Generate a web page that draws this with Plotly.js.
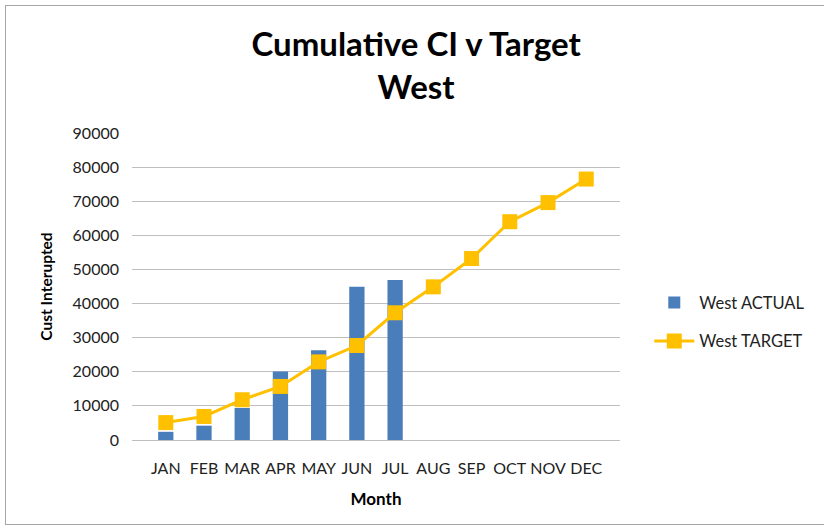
<!DOCTYPE html>
<html>
<head>
<meta charset="utf-8">
<script src="https://cdn.plot.ly/plotly-3.0.1.min.js"></script>
<style>
  body { margin: 0; background: #fff; }
  #frame { position: absolute; left: 5px; top: 5px; width: 830px; height: 518px; border: 1px solid #a6a6a6; }
  #plot { position: absolute; left: 0; top: 0; }
</style>
</head>
<body>
<div id="frame"></div>
<div id="plot"></div>
<script>
// monthly cumulative customers interrupted
const months = ['JAN', 'FEB', 'MAR', 'APR', 'MAY', 'JUN', 'JUL', 'AUG', 'SEP', 'OCT', 'NOV', 'DEC'];
const westActual = [2400, 4200, 9400, 20100, 26300, 44900, 46900, null, null, null, null, null];
const westTarget = [5100, 6900, 11800, 15700, 22900, 27700, 37300, 44900, 53200, 64000, 69600, 76500];

const baseFont = 'Lato, "Open Sans", sans-serif';

let actualTrace = {
    x: months,
    y: westActual,
    type: 'bar',
    name: 'West ACTUAL',
    legendgroup: 'actual',
    marker: { color: '#4a7ebb' },
    width: 0.4
};

let targetTrace = {
    x: months,
    y: westTarget,
    type: 'scatter',
    mode: 'lines+markers',
    name: 'West TARGET',
    legendgroup: 'target',
    line: { color: '#ffc000', width: 3 },
    marker: { color: '#ffc000', symbol: 'square', size: 15 }
};

let layout = {
    width: 824,
    height: 530,
    paper_bgcolor: 'rgba(0,0,0,0)',
    plot_bgcolor: 'rgba(0,0,0,0)',
    font: { family: baseFont, size: 16, color: '#222' },
    margin: { l: 132, r: 204, t: 133, b: 90 },
    title: {
        text: '<b>Cumulative CI v Target<br>West</b>',
        font: { size: 33, color: '#000' },
        x: 0.505,
        xanchor: 'center',
        y: 0.894,
        yanchor: 'middle',
        pad: { t: 0, b: 0 }
    },
    xaxis: {
        type: 'category',
        showline: true,
        linecolor: '#bfbfbf',
        linewidth: 1,
        ticks: '',
        ticklabelstandoff: 14,
        tickfont: { size: 16, color: '#222' },
        title: { text: '<b>Month</b>', font: { size: 17, color: '#000' }, standoff: 16 }
    },
    yaxis: {
        range: [0, 90000],
        dtick: 10000,
        showgrid: true,
        gridcolor: '#bfbfbf',
        gridwidth: 1,
        zeroline: false,
        showline: false,
        ticks: '',
        ticklabelstandoff: 12,
        tickformat: 'd',
        tickfont: { size: 16, color: '#222' },
        title: { text: '<b>Cust Interupted</b>', font: { size: 15.5, color: '#000' }, standoff: 16 }
    },
    showlegend: true,
    legend: {
        x: 1.06,
        y: 0.385,
        xanchor: 'left',
        yanchor: 'middle',
        font: { size: 16.5, color: '#222' },
        tracegroupgap: 14,
        itemwidth: 40,
        traceorder: 'grouped'
    },
    bargap: 0.6
};

Plotly.newPlot('plot', [actualTrace, targetTrace], layout, { displayModeBar: false, staticPlot: true });
</script>
</body>
</html>
